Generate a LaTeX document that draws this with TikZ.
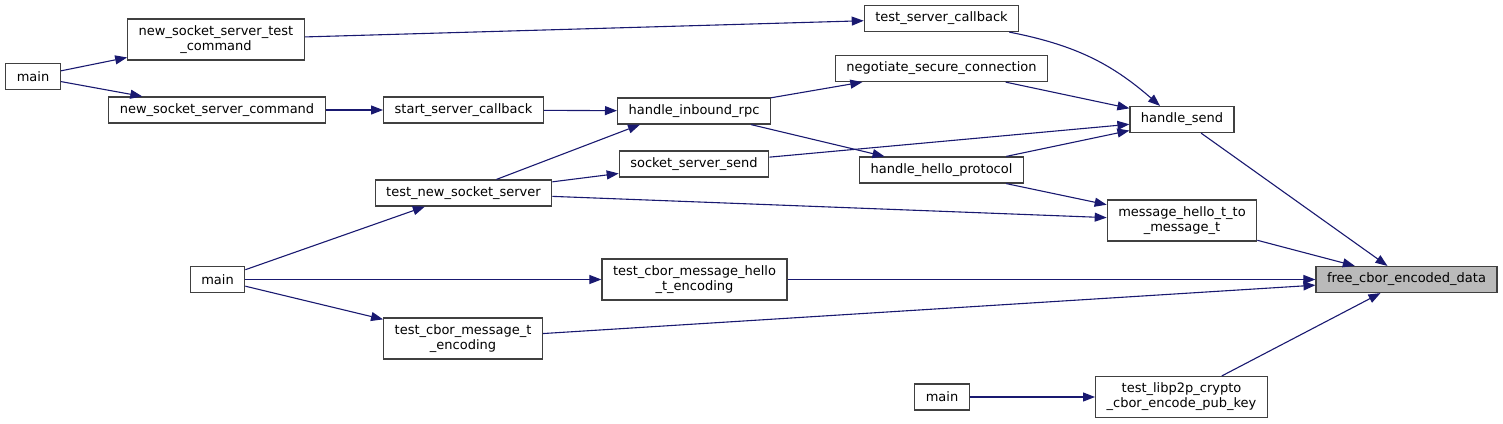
\documentclass[tikz,border=0pt]{standalone}
\usepackage{fontspec}
\setmainfont{DejaVu Sans}
\usetikzlibrary{arrows.meta}
\definecolor{midnight}{RGB}{25,25,112}

\begin{document}
\begin{tikzpicture}[
  x=1pt, y=-1pt,
  font=\fontsize{13}{15}\selectfont,
  fn/.style={draw=black!75, line width=1.2pt, fill=white, align=center, inner xsep=11pt, inner ysep=6.5pt, minimum height=26pt},
  cur/.style={fn, fill=black!27},
  call/.style={-{Triangle[length=12pt,width=9pt]}, line width=1.1pt, draw=midnight}
]
\useasboundingbox (0,0) rectangle (1503,423);

% callers, left to right
\node[fn] (mainA) at (33,76.5) {main};
\node[fn] (nsstc) at (216,39.5) {new\_socket\_server\_test\\\_command};
\node[fn] (nssc) at (217,110) {new\_socket\_server\_command};
\node[fn] (ssc) at (463.5,110) {start\_server\_callback};
\node[fn] (tns) at (463.5,193) {test\_new\_socket\_server};
\node[fn] (mainB) at (217.5,279.5) {main};
\node[fn] (tcmt) at (463,338.5) {test\_cbor\_message\_t\\\_encoding};
\node[fn] (hir) at (694,111) {handle\_inbound\_rpc};
\node[fn] (sss) at (694,164) {socket\_server\_send};
\node[fn] (tcmh) at (694.5,279.5) {test\_cbor\_message\_hello\\\_t\_encoding};
\node[fn] (tsc) at (941.5,18.5) {test\_server\_callback};
\node[fn] (nsc) at (941.5,68.5) {negotiate\_secure\_connection};
\node[fn] (hhp) at (941.5,170) {handle\_hello\_protocol};
\node[fn] (mainC) at (942,397) {main};
\node[fn] (hs) at (1182,119.5) {handle\_send};
\node[fn] (mhm) at (1182,220.5) {message\_hello\_t\_to\\\_message\_t};
\node[fn] (tlib) at (1181.5,397) {test\_libp2p\_crypto\\\_cbor\_encode\_pub\_key};
\node[cur] (fced) at (1406.5,279.5) {free\_cbor\_encoded\_data};

% calls
\foreach \a/\b in {mainA/nsstc, mainA/nssc, nsstc/tsc, nssc/ssc, ssc/hir,
  tns/sss, tns/mhm, hir/nsc, hir/hhp, nsc/hs, sss/hs, hhp/hs, hhp/mhm,
  hs/fced, mhm/fced, mainB/tns, mainB/tcmh, mainB/tcmt, tcmh/fced,
  tcmt/fced, mainC/tlib, tlib/fced} {
  \draw[call] (\a) -- (\b);
}
\draw[call] ([xshift=33pt]tns.north) -- ([xshift=-54pt]hir.south);
\draw[call] ([xshift=-10pt]tsc.south east) to[bend left=15] ([xshift=-22pt]hs.north);

\end{tikzpicture}
\end{document}
